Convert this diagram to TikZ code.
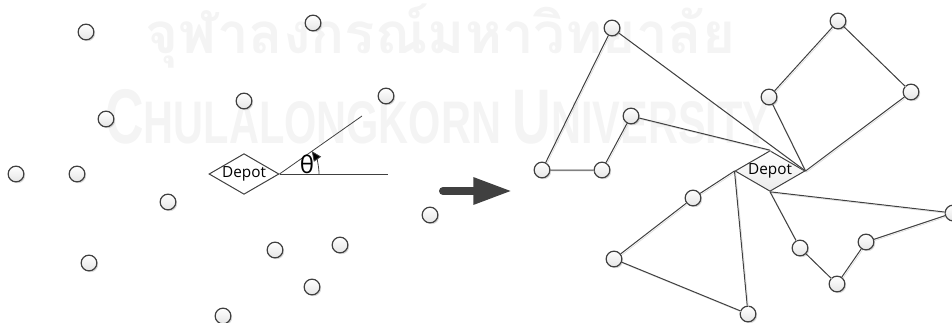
\documentclass[tikz,border=0pt]{standalone}
\usepackage{fontspec}
\setmainfont{Open Sans}
\newfontfamily\thaifont[Script=Thai]{Loma}
\newfontfamily\wmfont[FakeStretch=0.69]{Liberation Sans}
\usepackage{graphicx}
\usepackage{xcolor}
\definecolor{lineg}{RGB}{64,64,64}
\definecolor{markg}{RGB}{244,244,244}
\newcommand\wmbig{\fontsize{58}{58}\selectfont}
\newcommand\wmsmall{\fontsize{45}{45}\selectfont}
\usepackage{tikz}
\usetikzlibrary{arrows.meta, shapes.geometric, shadows}

\begin{document}
\begin{tikzpicture}[x=0.75pt, y=-0.75pt,
  cust/.style={circle, draw=lineg, line width=0.9pt, inner sep=0pt, minimum size=11.8pt,
               top color=white, bottom color=black!10,
               drop shadow={shadow xshift=1pt, shadow yshift=-1pt, fill=black!30}},
  depot/.style={diamond, draw=lineg, line width=0.75pt, inner sep=0pt, aspect=1.75,
                minimum width=52.5pt, minimum height=30.5pt, fill=white,
                font=\fontsize{11.5}{13}\selectfont},
  route/.style={draw=lineg, line width=0.75pt,
                preaction={draw=black!15, transform canvas={shift={(0.9pt,-0.9pt)}}}},
  wmark/.style={text=markg, inner sep=0pt, anchor=base west}
]
\useasboundingbox (0,0) rectangle (952,322);

% watermark
\node[wmark] (wthai) at (145,53) {\resizebox{442.5pt}{!}{\thaifont\bfseries จุฬาลงกรณ์มหาวิทยาลัย}};
\node[wmark] (wuniv) at (105,143) {\resizebox{498.75pt}{!}{\wmfont\bfseries
  {\wmbig C}{\wmsmall HULALONGKORN }{\wmbig U}{\wmsmall NIVERSITY}}};

% customers before routing
\node[cust] (l1) at (86,32) {};    \node[cust] (l2) at (313,23) {};
\node[cust] (l3) at (244,101) {};  \node[cust] (l4) at (386,96) {};
\node[cust] (l5) at (106,119) {};  \node[cust] (l6) at (16,174) {};
\node[cust] (l7) at (77,174) {};   \node[cust] (l8) at (168,202) {};
\node[cust] (l9) at (430,215) {};  \node[cust] (l10) at (275,250) {};
\node[cust] (l11) at (340,245) {}; \node[cust] (l12) at (89,263) {};
\node[cust] (l13) at (312,287) {}; \node[cust] (l14) at (223,316) {};

% depot and the polar angle
\node[depot] (depotL) at (244,174) {Depot};
\coordinate (axisend) at (388,174);
\coordinate (rayend) at (362,116);
\coordinate (arcstart) at (319,174);
\draw[lineg, line width=0.6pt] (depotL.east) -- (axisend);
\draw[lineg, line width=0.6pt] (depotL.east) -- (rayend);
\draw[lineg, line width=0.6pt, -{Triangle[length=7.5pt, width=6.5pt, fill=black]}]
  (arcstart) arc[start angle=0, end angle=35, radius=30pt];
\node[font=\fontsize{18}{18}\selectfont, inner sep=0pt] (theta) at (307,164) {θ};

% sweep arrow
\coordinate (go) at (443,191);
\coordinate (goend) at (512,191);
\draw[draw=black!75, line width=6pt, line cap=round,
      -{Triangle[length=29pt, width=19pt]}] (go) -- (goend);

% customers after routing
\node[cust] (r1) at (612,28) {};   \node[cust] (r2) at (542,170) {};
\node[cust] (r3) at (602,170) {};  \node[cust] (r4) at (631,116) {};
\node[cust] (r5) at (769,97) {};   \node[cust] (r6) at (838,21) {};
\node[cust] (r7) at (911,92) {};   \node[cust] (r8) at (693,198) {};
\node[cust] (r9) at (614,259) {};  \node[cust] (r10) at (748,314) {};
\node[cust] (r11) at (800,248) {}; \node[cust] (r12) at (837,284) {};
\node[cust] (r13) at (866,242) {}; \node[cust] (r14) at (953,213) {};

\node[depot, top color=white, bottom color=black!8] (depotR) at (770,171) {Depot};

% routes
\draw[route] (depotR.east) -- (r1) -- (r2) -- (r3) -- (r4) -- (depotR.north);
\draw[route] (depotR.east) -- (r5) -- (r6) -- (r7) -- (depotR.east);
\draw[route] (depotR.west) -- (r8) -- (r9) -- (r10) -- (depotR.west);
\draw[route] (depotR.south) -- (r11) -- (r12) -- (r13) -- (r14) -- (depotR.south);
\end{tikzpicture}
\end{document}
